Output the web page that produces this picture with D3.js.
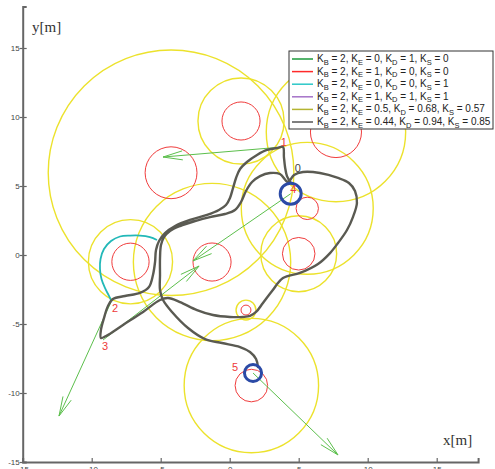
<!DOCTYPE html>
<html>
<head>
<meta charset="utf-8">
<script src="https://cdn.jsdelivr.net/npm/d3@7"></script>
<style>
  body { margin: 0; background: #fff; }
  svg { display: block; }
</style>
</head>
<body>
<svg id="chart" width="495" height="469"></svg>
<script>
// Axis ticks
const xTicks = [-15, -10, -5, 0, 5, 10, 15];
const yTicks = [-15, -10, -5, 0, 5, 10, 15];

// Obstacles: centre x, centre y, body radius, influence radius [m]
const obstacleX = [0.82, -4.25, 7.70, -1.28, -7.19, 5.00, 5.62, 1.18, 1.57];
const obstacleY = [9.71, 5.96, 8.91, -0.51, -0.49, 0.09, 3.38, -3.99, -9.46];
const obstacleR = [1.38, 1.88, 1.85, 1.38, 1.35, 1.18, 0.81, 0.36, 1.18];
const influenceR = [3.12, 8.9, 5.05, 5.7, 3.05, 2.75, 4.78, 0.72, 4.87];

// Goal markers
const goalX = [4.42, 1.69];
const goalY = [4.44, -8.55];
const goalR = [0.76, 0.62];

// Waypoint labels
const wpNames = ["0", "1", "2", "3", "4", "5"];
const wpX = [4.93, 3.93, -8.31, -9.04, 4.61, 0.38];
const wpY = [6.28, 8.21, -3.86, -6.57, 4.76, -8.09];

// Direction vectors at each waypoint
const arrowFrom = [[3.86, 7.83], [-8.60, -3.41], [-9.18, -6.16], [4.42, 4.44], [1.69, -8.55]];
const arrowTo = [[-4.83, 7.10], [-12.37, -11.67], [-2.22, -0.80], [-2.66, -0.43], [7.85, -14.49]];

// Trajectory, K_E = 0.44, K_D = 0.94, K_S = 0.85
const pathGray = [
  [4.44, 5.22], [4.15, 5.72], [4.01, 6.38], [3.93, 7.10], [3.86, 7.83],
  [3.43, 7.75], [2.70, 7.61], [1.98, 7.25], [1.25, 6.74], [0.75, 6.23],
  [0.46, 5.58], [0.24, 4.85], [0.02, 4.13], [-0.27, 3.62], [-0.78, 3.26],
  [-1.64, 2.90], [-2.88, 2.54], [-3.96, 2.10], [-4.69, 1.59], [-5.12, 1.01],
  [-5.34, 0.36], [-5.41, -0.51], [-5.56, -1.45], [-5.85, -2.32], [-6.50, -2.75],
  [-7.59, -2.97], [-8.46, -3.19], [-8.82, -3.70], [-9.11, -4.57], [-9.33, -5.43],
  [-9.33, -6.01], [-8.96, -5.87], [-7.73, -5.07], [-6.28, -4.13], [-5.05, -3.26],
  [-4.47, -3.12], [-3.60, -3.41], [-2.37, -3.99], [-1.21, -4.35], [0.02, -4.49],
  [0.96, -4.49], [1.47, -4.42], [1.91, -4.13], [2.41, -3.48], [3.07, -2.61],
  [3.86, -1.67], [5.09, -1.30], [6.40, -0.65], [7.27, 0.14], [7.85, 0.87],
  [8.50, 1.81], [8.93, 2.75], [9.22, 3.77], [9.08, 4.64], [8.64, 5.22],
  [7.85, 5.58], [6.54, 5.94], [5.31, 6.01], [4.66, 5.80], [4.22, 5.29],
  [3.64, 5.87], [2.92, 5.94], [2.20, 5.72], [1.62, 5.29], [1.18, 4.64],
  [0.82, 3.84], [0.38, 3.26], [-0.34, 2.97], [-1.43, 2.75], [-2.51, 2.46],
  [-3.60, 2.10], [-4.33, 1.74], [-4.76, 1.30], [-4.98, 0.72], [-5.05, -0.22],
  [-5.05, -1.45], [-5.05, -2.54], [-4.83, -3.26], [-4.18, -4.13], [-3.02, -5.29],
  [-1.79, -6.09], [-0.56, -6.38], [0.75, -6.67], [1.47, -7.03], [1.91, -7.54],
  [2.05, -8.12]
];

// Trajectory, K_E = 0, K_D = 0, K_S = 1 (section around the obstacle at 2)
const pathCyan = [
  [-5.27, 1.09], [-5.78, 1.30], [-6.50, 1.41], [-7.22, 1.41], [-7.95, 1.34],
  [-8.60, 1.01], [-9.11, 0.43], [-9.36, -0.29], [-9.40, -1.01], [-9.29, -1.74],
  [-9.04, -2.39], [-8.78, -2.90], [-8.60, -3.26]
];

// Legend entries
const legendColors = ["#1c9a3c", "#ff2a2a", "#2cc8c8", "#a572c8", "#b4b432", "#555555"];
const legendKE = ["0", "1", "0", "1", "0.5", "0.44"];
const legendKD = ["1", "0", "0", "1", "0.68", "0.94"];
const legendKS = ["0", "0", "1", "1", "0.57", "0.85"];

const svg = d3.select("#chart");
const x = d3.scaleLinear().domain([-15, 18]).range([22.7, 478.1]);
const y = d3.scaleLinear().domain([-15, 18]).range([462, 6.6]);

// Influence zones
svg.append("g").selectAll("circle").data(influenceR).join("circle")
  .attr("cx", (d, i) => x(obstacleX[i]))
  .attr("cy", (d, i) => y(obstacleY[i]))
  .attr("r", d => x(d) - x(0))
  .attr("fill", "none").attr("stroke", "#ece22c").attr("stroke-width", 1.4);

// Obstacles
svg.append("g").selectAll("circle").data(obstacleR).join("circle")
  .attr("cx", (d, i) => x(obstacleX[i]))
  .attr("cy", (d, i) => y(obstacleY[i]))
  .attr("r", d => x(d) - x(0))
  .attr("fill", "none").attr("stroke", "#f03c3c").attr("stroke-width", 1);

// Direction arrows
const arrows = svg.append("g").attr("stroke", "#5cbf4c").attr("stroke-width", 1).attr("fill", "none");
arrowFrom.forEach((p, i) => {
  const x0 = x(p[0]), y0 = y(p[1]), x1 = x(arrowTo[i][0]), y1 = y(arrowTo[i][1]);
  const a = Math.atan2(y0 - y1, x0 - x1);
  const len = 20, spread = 13 * Math.PI / 180;
  arrows.append("line").attr("x1", x0).attr("y1", y0).attr("x2", x1).attr("y2", y1);
  [-spread, spread].forEach(s => {
    arrows.append("line").attr("x1", x1).attr("y1", y1)
      .attr("x2", x1 + len * Math.cos(a + s)).attr("y2", y1 + len * Math.sin(a + s));
  });
});

// Trajectories
const line = d3.line().x(d => x(d[0])).y(d => y(d[1])).curve(d3.curveCatmullRom.alpha(0.5));
svg.append("path").attr("d", line(pathCyan))
  .attr("fill", "none").attr("stroke", "#22b8b8").attr("stroke-width", 1.8);
svg.append("path").attr("d", line(pathGray))
  .attr("fill", "none").attr("stroke", "#5a5a52").attr("stroke-width", 2.4)
  .attr("stroke-linejoin", "round").attr("stroke-linecap", "round");

// Goal markers
svg.append("g").selectAll("circle").data(goalR).join("circle")
  .attr("cx", (d, i) => x(goalX[i]))
  .attr("cy", (d, i) => y(goalY[i]))
  .attr("r", d => x(d) - x(0))
  .attr("fill", "none").attr("stroke", "#2b4aa6").attr("stroke-width", 3);

// Waypoint labels
svg.append("g").selectAll("text").data(wpNames).join("text")
  .attr("x", (d, i) => x(wpX[i]))
  .attr("y", (d, i) => y(wpY[i]))
  .attr("text-anchor", "middle").attr("dominant-baseline", "central")
  .attr("font-family", "Liberation Sans, Arial, sans-serif").attr("font-size", 11)
  .attr("fill", d => d === "0" ? "#444" : "#ee3a3a")
  .text(d => d);

// Axes
const axisColor = "#666";
const tickFont = "Liberation Sans, Arial, sans-serif";
const xAxis = svg.append("g").attr("transform", `translate(0,${y(-15)})`)
  .call(d3.axisBottom(x).tickValues(xTicks).tickSize(-4).tickPadding(4).tickFormat(d3.format("d")));
const yAxis = svg.append("g").attr("transform", `translate(${x(-15)},0)`)
  .call(d3.axisLeft(y).tickValues(yTicks).tickSize(-4).tickPadding(3).tickFormat(d3.format("d")));
[xAxis, yAxis].forEach(g => {
  g.select(".domain").attr("stroke", axisColor).attr("stroke-width", 2);
  g.selectAll(".tick line").attr("stroke", axisColor).attr("stroke-width", 1.2);
  g.selectAll(".tick text").attr("fill", "#444").attr("font-size", 8).attr("font-family", tickFont)
    .text(d => String(d));
});
xAxis.selectAll(".tick line").attr("y1", 0).attr("y2", -4);
yAxis.selectAll(".tick").append("line").attr("x1", 0).attr("x2", -3)
  .attr("stroke", axisColor).attr("stroke-width", 1.2);

// Axis titles
svg.append("text").attr("x", 32).attr("y", 32)
  .attr("font-family", "Liberation Serif, Times New Roman, serif").attr("font-size", 15)
  .attr("fill", "#333").text("y[m]");
svg.append("text").attr("x", 443).attr("y", 445)
  .attr("font-family", "Liberation Serif, Times New Roman, serif").attr("font-size", 15)
  .attr("fill", "#333").text("x[m]");

// Legend
const lg = svg.append("g").attr("transform", "translate(289,51)");
lg.append("rect").attr("x", 0).attr("y", 0).attr("width", 204).attr("height", 78)
  .attr("fill", "#fff").attr("stroke", "#333").attr("stroke-width", 1);
legendColors.forEach((c, i) => {
  const ty = 8 + i * 12.6;
  lg.append("line").attr("x1", 3).attr("x2", 24).attr("y1", ty).attr("y2", ty)
    .attr("stroke", c).attr("stroke-width", 1.5);
  const t = lg.append("text").attr("x", 28).attr("y", ty + 3)
    .attr("font-family", "Liberation Sans, Arial, sans-serif").attr("font-size", 10).attr("fill", "#222");
  const parts = [["B", "2"], ["E", legendKE[i]], ["D", legendKD[i]], ["S", legendKS[i]]];
  parts.forEach((p, j) => {
    t.append("tspan").text("K");
    t.append("tspan").attr("dy", 2.5).attr("font-size", 7.5).text(p[0]);
    t.append("tspan").attr("dy", -2.5).text(` = ${p[1]}${j < 3 ? ", " : ""}`);
  });
});
</script>
</body>
</html>
